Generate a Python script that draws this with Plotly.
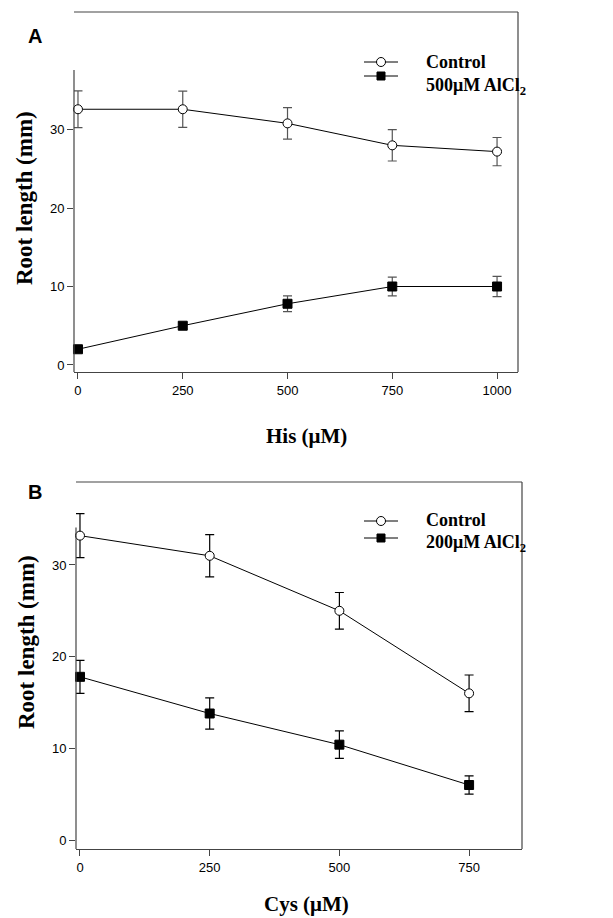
import plotly.graph_objects as go

W, H = 613, 918

# ---- data ----
his_conc = [0, 250, 500, 750, 1000]
his_control = [32.6, 32.6, 30.8, 28.0, 27.2]
his_control_err = [2.35, 2.3, 2.0, 2.0, 1.8]
his_al = [2.0, 5.0, 7.8, 10.0, 10.0]
his_al_err = [0.35, 0.4, 1.0, 1.2, 1.3]

cys_conc = [0, 250, 500, 750]
cys_control = [33.2, 31.0, 25.0, 16.0]
cys_control_err = [2.4, 2.3, 2.0, 2.0]
cys_al = [17.8, 13.8, 10.4, 6.0]
cys_al_err = [1.8, 1.7, 1.5, 1.0]

x_ticks_a = [0, 250, 500, 750, 1000]
x_ticks_b = [0, 250, 500, 750]
y_ticks = [0, 10, 20, 30]

legend_a = ["Control", "500μM AlCl<sub>2</sub>"]
legend_b = ["Control", "200μM AlCl<sub>2</sub>"]


def px(x):
    return x / W


def py(y):
    return 1 - y / H


AX = "#444444"
SERIF = "Liberation Serif, Times New Roman, serif"
SANS = "Liberation Sans, Arial, sans-serif"

fig = go.Figure()


def add_series(x, y, err, xa, ya, symbol, fill, errcol):
    fig.add_trace(go.Scatter(
        x=x, y=y, xaxis=xa, yaxis=ya, mode="lines+markers",
        line=dict(color="black", width=1),
        marker=dict(symbol=symbol, size=9, color=fill,
                    line=dict(color="black", width=1)),
        error_y=dict(type="data", array=err, color=errcol, thickness=1.2, width=4.5),
        showlegend=False, cliponaxis=False))


add_series(his_conc, his_control, his_control_err, "x", "y", "circle", "white", "#555555")
add_series(his_conc, his_al, his_al_err, "x", "y", "square", "black", "#555555")
add_series(cys_conc, cys_control, cys_control_err, "x2", "y2", "circle", "white", "black")
add_series(cys_conc, cys_al, cys_al_err, "x2", "y2", "square", "black", "black")

tickfont = dict(family=SANS, size=13, color="black")

fig.update_layout(
    width=W, height=H, margin=dict(l=0, r=0, t=0, b=0),
    paper_bgcolor="white", plot_bgcolor="white",
    xaxis=dict(domain=[px(74), px(518)], range=[-9.5, 1050], anchor="y",
               tickvals=x_ticks_a, ticks="outside", ticklen=6, tickcolor=AX,
               showline=True, linecolor=AX, linewidth=1.2, showgrid=False,
               zeroline=False, tickfont=tickfont),
    yaxis=dict(domain=[py(372), py(12)], range=[-0.9, 45.0], anchor="x",
               tickvals=y_ticks, ticks="outside", ticklen=6, tickcolor=AX,
               showline=False, showgrid=False, zeroline=False, tickfont=tickfont),
    xaxis2=dict(domain=[px(76), px(522)], range=[-7.7, 852], anchor="y2",
                tickvals=x_ticks_b, ticks="outside", ticklen=6, tickcolor=AX,
                showline=True, linecolor=AX, linewidth=1.2, showgrid=False,
                zeroline=False, tickfont=tickfont),
    yaxis2=dict(domain=[py(849), py(482)], range=[-0.98, 39.05], anchor="x2",
                tickvals=y_ticks, ticks="outside", ticklen=6, tickcolor=AX,
                showline=False, showgrid=False, zeroline=False, tickfont=tickfont),
)

shapes = []
for xd, yd, ytop in [("x domain", "y", 37.6), ("x2 domain", "y2", 34.1)]:
    # partial left spine
    shapes.append(dict(type="line", xref=xd, yref=yd, x0=0, x1=0,
                       y0=-5, y1=ytop, line=dict(color=AX, width=1.2)))
for xd, yd in [("x domain", "y domain"), ("x2 domain", "y2 domain")]:
    shapes.append(dict(type="line", xref=xd, yref=yd, x0=0, x1=1, y0=1, y1=1,
                       line=dict(color=AX, width=1.2)))
    shapes.append(dict(type="line", xref=xd, yref=yd, x0=1, x1=1, y0=0, y1=1,
                       line=dict(color=AX, width=1.2)))


def legend_symbols(xc, y1, y2):
    out = []
    for yy in (y1, y2):
        out.append(dict(type="line", xref="paper", yref="paper",
                        x0=px(xc - 17), x1=px(xc + 17), y0=py(yy), y1=py(yy),
                        line=dict(color="black", width=1)))
    out.append(dict(type="circle", xref="paper", yref="paper",
                    x0=px(xc - 4.5), x1=px(xc + 4.5), y0=py(y1 - 4.5), y1=py(y1 + 4.5),
                    fillcolor="white", line=dict(color="black", width=1)))
    out.append(dict(type="rect", xref="paper", yref="paper",
                    x0=px(xc - 4), x1=px(xc + 4), y0=py(y2 - 4), y1=py(y2 + 4),
                    fillcolor="black", line=dict(color="black", width=1)))
    return out


shapes += legend_symbols(381, 62, 76)
shapes += legend_symbols(381, 521, 538)
fig.update_layout(shapes=shapes)

ann = []
lf = dict(family=SERIF, size=18, color="black")
ann.append(dict(x=px(424), y=py(62), xref="paper", yref="paper", text="<b>%s</b>" % legend_a[0],
                showarrow=False, xanchor="left", yanchor="middle", font=lf))
ann.append(dict(x=px(424), y=py(86), xref="paper", yref="paper", text="<b>%s</b>" % legend_a[1],
                showarrow=False, xanchor="left", yanchor="middle", font=lf))
ann.append(dict(x=px(424), y=py(520), xref="paper", yref="paper", text="<b>%s</b>" % legend_b[0],
                showarrow=False, xanchor="left", yanchor="middle", font=lf))
ann.append(dict(x=px(424), y=py(543), xref="paper", yref="paper", text="<b>%s</b>" % legend_b[1],
                showarrow=False, xanchor="left", yanchor="middle", font=lf))

pf = dict(family=SANS, size=20, color="black")
ann.append(dict(x=px(35), y=py(36), xref="paper", yref="paper", text="<b>A</b>",
                showarrow=False, xanchor="center", yanchor="middle", font=pf))
ann.append(dict(x=px(35), y=py(492), xref="paper", yref="paper", text="<b>B</b>",
                showarrow=False, xanchor="center", yanchor="middle", font=pf))

tf = dict(family=SERIF, size=21, color="black")
ann.append(dict(x=px(307), y=py(436), xref="paper", yref="paper", text="<b>His (μM)</b>",
                showarrow=False, xanchor="center", yanchor="middle", font=tf))
ann.append(dict(x=px(307), y=py(904), xref="paper", yref="paper", text="<b>Cys (μM)</b>",
                showarrow=False, xanchor="center", yanchor="middle", font=tf))
yf = dict(family=SERIF, size=23, color="black")
ann.append(dict(x=px(24), y=py(198), xref="paper", yref="paper", text="<b>Root length (mm)</b>",
                showarrow=False, textangle=-90, xanchor="center", yanchor="middle", font=yf))
ann.append(dict(x=px(26), y=py(642), xref="paper", yref="paper", text="<b>Root length (mm)</b>",
                showarrow=False, textangle=-90, xanchor="center", yanchor="middle", font=yf))
fig.update_layout(annotations=ann)

fig.write_html("out.html", config={"displayModeBar": False},
               post_script="document.body.style.margin='0';document.body.style.overflow='hidden';")
